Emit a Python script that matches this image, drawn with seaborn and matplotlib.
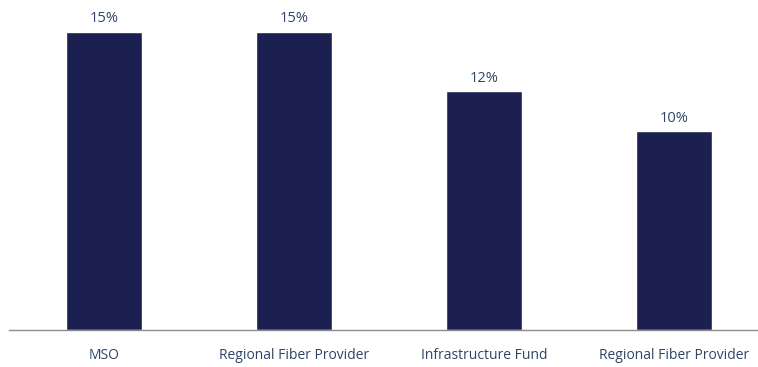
import matplotlib
matplotlib.use('Agg')
import matplotlib.pyplot as plt
import pandas as pd
import seaborn as sns

# data
categories = ['MSO', 'Regional Fiber Provider', 'Infrastructure Fund', 'Regional Fiber Provider']
values = [15, 15, 12, 10]

# positions are used as the x key, because two categories share a name
df = pd.DataFrame({'pos': range(len(categories)), 'value': values})

sns.set_theme(style='white')
plt.rcParams['font.family'] = ['Open Sans', 'DejaVu Sans']

bar_color = '#1b2050'
text_color = '#2f4566'

fig = plt.figure(figsize=(7.58, 3.67), dpi=100)
ax = fig.add_axes([9 / 758, 37 / 367, 749 / 758, 330 / 367])

sns.barplot(data=df, x='pos', y='value', color=bar_color, width=0.395,
            saturation=1, ax=ax)

ax.set_xlim(-0.5, 3.442)
ax.set_ylim(0, 16.6)

# value labels
for container in ax.containers:
    ax.bar_label(container, labels=[f'{v}%' for v in values], padding=4,
                 fontsize=10.5, color=text_color)

ax.set_xticks(range(len(categories)))
ax.set_xticklabels(categories)
ax.set_xlabel('')
ax.set_ylabel('')
ax.set_yticks([])
ax.tick_params(axis='x', length=0, pad=13, labelsize=10, labelcolor=text_color)

for side in ['top', 'right', 'left']:
    ax.spines[side].set_visible(False)
ax.spines['bottom'].set_color('#8c8c8c')
ax.spines['bottom'].set_linewidth(1)

fig.savefig('out.png', dpi=100)
